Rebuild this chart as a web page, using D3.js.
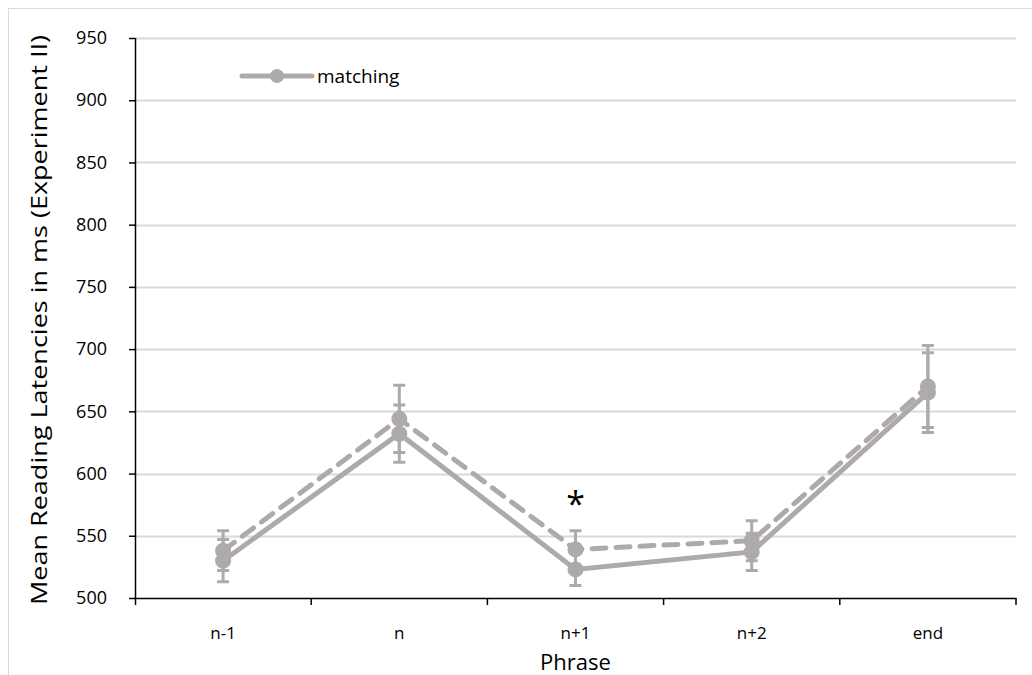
<!DOCTYPE html>
<html>
<head>
<meta charset="utf-8">
<script src="https://cdn.jsdelivr.net/npm/d3@7"></script>
<style>
  body { margin: 0; background: #fff; }
  text { font-family: "Open Sans", "Liberation Sans", sans-serif; fill: #000; }
</style>
</head>
<body>
<div id="chart"></div>
<script>
// data
const phrases = ["n-1", "n", "n+1", "n+2", "end"];
const matchingMeans = [530, 632, 523, 537, 665];
const matchingErr   = [17, 23, 13, 15, 32];
const otherMeans    = [538, 644, 539, 546, 670];
const otherErr      = [16, 27, 15, 16, 33];
const yTicks = [500, 550, 600, 650, 700, 750, 800, 850, 900, 950];

const W = 1032, H = 675;
const margin = { top: 38, right: 16, bottom: 77, left: 135 };
const width = W - margin.left - margin.right,
      height = H - margin.top - margin.bottom;
const grey = "#aeaaaa";

const root = d3.select("#chart").append("svg")
  .attr("width", W).attr("height", H);

// chart border
root.append("rect")
  .attr("x", 8.5).attr("y", 8.5)
  .attr("width", W).attr("height", H)
  .attr("fill", "none").attr("stroke", "#d9d9d9").attr("stroke-width", 1);

const svg = root.append("g")
  .attr("transform", `translate(${margin.left},${margin.top})`);

const x = d3.scaleBand().domain(phrases).range([0, width]);
const y = d3.scaleLinear().domain([500, 950]).range([height, 0]);

// gridlines
svg.append("g")
  .selectAll("line")
  .data(yTicks.slice(1))
  .enter().append("line")
  .attr("x1", 0).attr("x2", width)
  .attr("y1", d => Math.round(y(d)) + 0.5).attr("y2", d => Math.round(y(d)) + 0.5)
  .attr("stroke", "#d9d9d9").attr("stroke-width", 2);

// y axis
const yAxis = svg.append("g")
  .call(d3.axisLeft(y).tickValues(yTicks).tickSize(6).tickPadding(22));
yAxis.select(".domain").attr("stroke", "#000").attr("stroke-width", 1.5)
  .attr("d", `M0.5,0V${height + 7}`);
yAxis.selectAll("line").attr("stroke", "#000").attr("stroke-width", 1.5);
yAxis.selectAll("text").style("font-size", "18px").attr("font-family", null);

// x axis: ticks at band boundaries
const xAxis = svg.append("g")
  .attr("transform", `translate(0,${height})`)
  .call(d3.axisBottom(x).tickSize(0).tickPadding(29));
xAxis.select(".domain").attr("stroke", "#000").attr("stroke-width", 1.5);
xAxis.selectAll("text").style("font-size", "17px").attr("font-family", null);
xAxis.selectAll(".bound")
  .data(phrases.slice(1).concat(["_end"]))
  .enter().append("line")
  .attr("class", "bound")
  .attr("x1", (d, i) => x.step() * (i + 1)).attr("x2", (d, i) => x.step() * (i + 1))
  .attr("y1", 0).attr("y2", 7)
  .attr("stroke", "#000").attr("stroke-width", 1.5);

// axis titles
svg.append("text")
  .attr("transform", `translate(${-95},${height / 2 + 2}) rotate(-90)`)
  .attr("text-anchor", "middle")
  .attr("dy", "0.35em")
  .attr("textLength", 570)
  .attr("lengthAdjust", "spacingAndGlyphs")
  .style("font-size", "21px")
  .text("Mean Reading Latencies in ms (Experiment II)");

svg.append("text")
  .attr("x", width / 2).attr("y", height + 72)
  .attr("text-anchor", "middle")
  .style("font-size", "22px")
  .text("Phrase");

const cx = d => x(d) + x.bandwidth() / 2;

function drawSeries(means, errs, dash) {
  const pts = phrases.map((p, i) => ({ p, m: means[i], e: errs[i] }));
  const g = svg.append("g");
  g.append("path")
    .datum(pts)
    .attr("fill", "none")
    .attr("stroke", grey)
    .attr("stroke-width", 5)
    .attr("stroke-linecap", "round")
    .attr("stroke-dasharray", dash)
    .attr("d", d3.line().x(d => cx(d.p)).y(d => y(d.m)));
  g.selectAll(".err")
    .data(pts).enter().append("path")
    .attr("fill", "none").attr("stroke", grey).attr("stroke-width", 3)
    .attr("d", d => {
      const xc = cx(d.p), y0 = y(d.m - d.e), y1 = y(d.m + d.e);
      return `M${xc},${y0}V${y1}M${xc - 6},${y0}H${xc + 6}M${xc - 6},${y1}H${xc + 6}`;
    });
  g.selectAll("circle")
    .data(pts).enter().append("circle")
    .attr("cx", d => cx(d.p)).attr("cy", d => y(d.m))
    .attr("r", 8).attr("fill", grey);
}

drawSeries(otherMeans, otherErr, "14,10");
drawSeries(matchingMeans, matchingErr, null);

// significance mark
svg.append("text")
  .attr("x", cx("n+1")).attr("y", y(550) - 20)
  .attr("text-anchor", "middle")
  .style("font-size", "34px")
  .text("*");

// legend
const lg = root.append("g").attr("transform", "translate(242,76)");
lg.append("line").attr("x1", 0).attr("x2", 70).attr("y1", 0).attr("y2", 0)
  .attr("stroke", grey).attr("stroke-width", 5).attr("stroke-linecap", "round");
lg.append("circle").attr("cx", 35).attr("cy", 0).attr("r", 7).attr("fill", grey);
lg.append("text").attr("x", 75).attr("y", 0).attr("dy", "0.35em")
  .style("font-size", "19px").text("matching");
</script>
</body>
</html>
